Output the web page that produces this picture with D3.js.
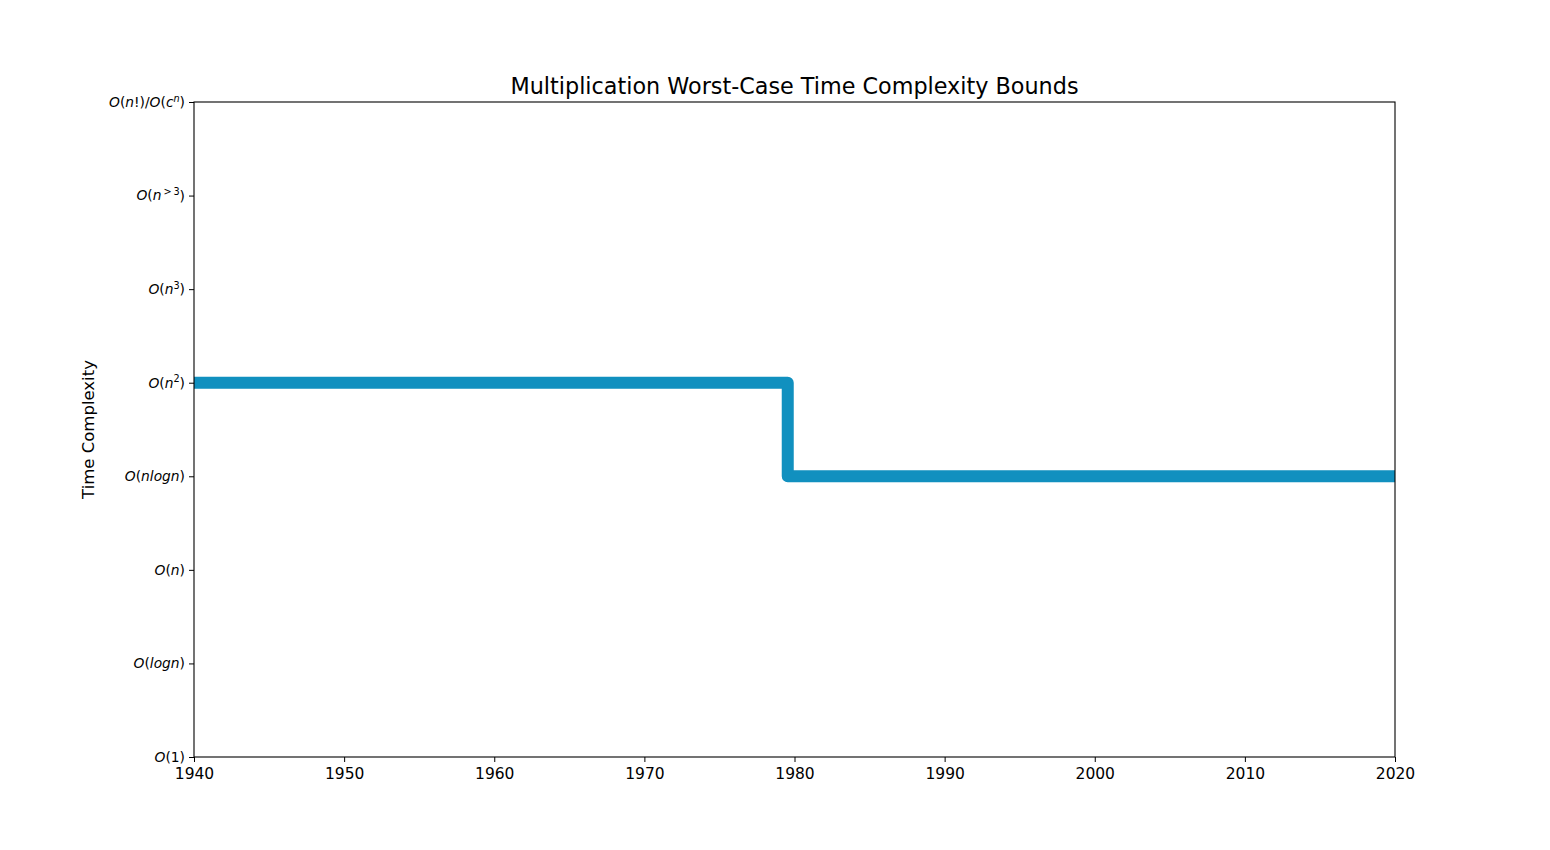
<!DOCTYPE html>
<html><head><meta charset="utf-8">
<script src="https://cdn.jsdelivr.net/npm/d3@7"></script>
<style>body{margin:0;background:#fff;font-family:"DejaVu Sans",sans-serif;}</style>
</head><body><svg id="c" width="1550" height="850"></svg>
<script>
// Data
const complexityLevels = ["O(1)","O(logn)","O(n)","O(nlogn)","O(n^2)","O(n^3)","O(n^>3)","O(n!)/O(c^n)"];
const years = [1930, 1979.55, 2030];
const levelIndex = [4, 3, 3];
const xTicks = [1940,1950,1960,1970,1980,1990,2000,2010,2020];

// Tick label pieces: [text, style] style: i=italic, r=roman, s=superscript italic, sr=superscript roman
const tickParts = [
  [["O","i"],["(1)","r"]],
  [["O","i"],["(","r"],["logn","i"],[")","r"]],
  [["O","i"],["(","r"],["n","i"],[")","r"]],
  [["O","i"],["(","r"],["nlogn","i"],[")","r"]],
  [["O","i"],["(","r"],["n","i"],["2","sr"],[")","r"]],
  [["O","i"],["(","r"],["n","i"],["3","sr"],[")","r"]],
  [["O","i"],["(","r"],["n","i"],["\u2009>\u20093","sr"],[")","r"]],
  [["O","i"],["(","r"],["n","i"],["!","r"],[")/","r"],["O","i"],["(","r"],["c","i"],["n","s"],[")","r"]]
];

const svg = d3.select("#c");
const L = 194, R = 1395, T = 102, B = 757;
const x = d3.scaleLinear().domain([1940, 2020]).range([L, R]);
const y = d3.scaleLinear().domain([0, 7]).range([B, T]);

svg.append("defs").append("clipPath").attr("id","clip")
  .append("rect").attr("x",L).attr("y",T).attr("width",R-L).attr("height",B-T);

const pts = years.map((yr,i)=>[yr, levelIndex[i]]);
const line = d3.line().x(d=>x(d[0])).y(d=>y(d[1])).curve(d3.curveStepAfter);
svg.append("path").attr("clip-path","url(#clip)")
  .attr("d", line(pts))
  .attr("fill","none").attr("stroke","#1190bf").attr("stroke-width",12)
  .attr("stroke-linejoin","round").attr("stroke-linecap","round");

// X axis
const xAxis = svg.append("g").attr("transform",`translate(0,${B})`)
  .call(d3.axisBottom(x).tickValues(xTicks).tickFormat(d3.format("d")).tickSizeOuter(0).tickSize(5));
xAxis.selectAll("text").attr("font-family","DejaVu Sans").attr("font-size",15.5).attr("fill","#000").attr("dy","0.88em");
xAxis.select(".domain").remove();

// Y axis
const yAxis = svg.append("g").attr("transform",`translate(${L},0)`)
  .call(d3.axisLeft(y).tickValues(d3.range(8)).tickFormat(()=>"").tickSizeOuter(0).tickSize(5));
yAxis.select(".domain").remove();
yAxis.selectAll(".tick").each(function(d){
  const t = d3.select(this).select("text")
    .attr("font-family","DejaVu Sans").attr("font-size",13.8).attr("fill","#000")
    .attr("x",-9).attr("dy","0.32em").attr("text-anchor","end");
  t.text(null);
  tickParts[d].forEach(([txt, st], k)=>{
    const ts = t.append("tspan").text(txt);
    if (st==="i"||st==="s") ts.attr("font-style","italic");
    if (st==="s"||st==="sr") { ts.attr("font-size",9.7).attr("dy","-0.55em"); }
    else if (k>0 && (tickParts[d][k-1][1]==="s"||tickParts[d][k-1][1]==="sr")) { ts.attr("dy","0.39em"); }
  });
});

// frame
svg.append("rect").attr("x",L).attr("y",T).attr("width",R-L).attr("height",B-T)
  .attr("fill","none").attr("stroke","#000").attr("stroke-width",1.1);

// title
svg.append("text").attr("x",(L+R)/2).attr("y",T-8).attr("text-anchor","middle")
  .attr("font-family","DejaVu Sans").attr("font-size",22.3).attr("fill","#000")
  .text("Multiplication Worst-Case Time Complexity Bounds");

// y label
svg.append("text").attr("transform",`translate(94,${(T+B)/2}) rotate(-90)`)
  .attr("text-anchor","middle").attr("font-family","DejaVu Sans").attr("font-size",16.5).attr("fill","#000")
  .text("Time Complexity");
</script></body></html>
